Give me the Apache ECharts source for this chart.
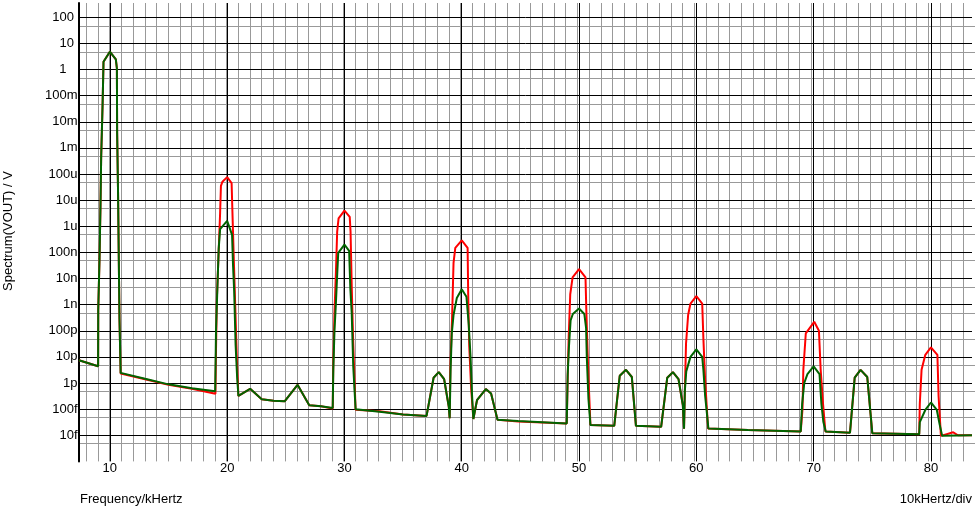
<!DOCTYPE html>
<html><head><meta charset="utf-8">
<script src="https://cdn.jsdelivr.net/npm/echarts@6/dist/echarts.min.js"></script>
<style>html,body{margin:0;padding:0;background:#fff}#c{width:975px;height:509px}</style>
</head><body><div id="c"></div>
<script>
// Decade exponents and their SI tick labels (V)
const yTickExponents = [-14,-13,-12,-11,-10,-9,-8,-7,-6,-5,-4,-3,-2,-1,0,1,2];
const yTickLabels = ['10f','100f','1p','10p','100p','1n','10n','100n','1u','10u','100u','1m','10m','100m','1','10','100'];
const xTickLabels = ['10','20','30','40','50','60','70','80'];

// Spectrum(VOUT), green trace: [frequency kHz, volts]
const greenSpectrum = [
 [7.37,7.4e-12],[9.0,4.4e-12],[9.01,6.3e-10],[9.12,5.9e-8],[9.2,5.6e-6],[9.26,4.6e-4],[9.38,4.4e-2],[9.46,2.0],
 [10.0,4.8],[10.51,2.45],[10.6,1.12],[10.62,4.2e-3],[10.7,1.8e-5],[10.76,6.9e-8],[10.82,3.0e-10],[10.92,2.45e-12],
 [13.0,1.45e-12],[15.0,8.9e-13],[17.0,6.3e-13],[18.98,4.8e-13],
 [19.05,1.0e-10],[19.2,1.2e-8],[19.28,1.4e-7],[19.4,7.8e-7],[20.0,1.6e-6],[20.42,4.7e-7],[20.5,3.3e-8],[20.6,3.2e-9],[20.72,2.9e-11],[20.85,1.7e-12],[20.96,3.2e-13],
 [21.96,6.0e-13],[22.95,2.4e-13],[23.95,2.1e-13],[24.9,2.0e-13],[26.0,8.5e-13],[27.0,1.4e-13],[28.0,1.3e-13],[29.0,1.1e-13],
 [29.05,3.2e-12],[29.15,1.0e-10],[29.27,1.1e-9],[29.36,8.9e-9],[29.47,9.5e-8],[29.6,1.15e-7],[30.0,2.0e-7],[30.4,1.15e-7],[30.5,4.3e-9],[30.62,4.7e-10],[30.75,4.3e-12],[30.95,1.0e-13],
 [33.0,7.9e-14],[35.0,6.3e-14],[37.0,5.5e-14],
 [37.6,1.6e-12],[38.04,2.6e-12],[38.5,1.4e-12],[38.9,1.2e-13],[38.97,4.5e-14],
 [39.05,3.2e-12],[39.15,7.9e-11],[39.3,4.0e-10],[39.58,1.8e-9],[40.0,3.9e-9],[40.4,2.0e-9],[40.6,1.6e-10],[40.75,1.0e-11],[40.87,4.0e-13],[40.99,4.2e-14],
 [41.3,2.2e-13],[42.05,5.9e-13],[42.5,4.0e-13],[43.05,3.9e-14],[44.8,3.5e-14],[48.95,2.8e-14],
 [49.03,2.0e-12],[49.14,2.5e-11],[49.28,2.5e-10],[49.47,4.4e-10],[50.0,7.1e-10],[50.45,4.4e-10],[50.6,1.3e-10],[50.66,1.0e-11],[50.8,2.5e-13],[50.97,2.5e-14],
 [53.0,2.3e-14],[53.47,1.9e-12],[54.0,3.2e-12],[54.5,1.7e-12],[54.85,2.3e-14],
 [57.0,2.1e-14],[57.52,1.6e-12],[58.0,2.6e-12],[58.48,1.4e-12],[58.85,1.4e-13],[58.95,1.8e-14],
 [59.02,5.0e-13],[59.14,2.8e-12],[59.5,1.0e-11],[60.0,1.95e-11],[60.5,1.0e-11],[60.6,3.2e-12],[60.75,3.2e-13],[61.03,1.8e-14],
 [64.4,1.6e-14],[68.9,1.4e-14],
 [69.02,1.6e-13],[69.2,1.0e-12],[69.47,2.2e-12],[70.0,4.3e-12],[70.5,2.2e-12],[70.66,1.6e-13],[70.83,3.2e-14],[71.03,1.4e-14],
 [73.1,1.26e-14],[73.5,1.6e-12],[74.0,3.2e-12],[74.57,1.7e-12],[75.0,1.2e-14],
 [79.0,1.1e-14],[79.05,3.2e-14],[79.52,9.3e-14],[80.0,1.8e-13],[80.5,9.3e-14],[80.75,2.5e-14],[80.96,9.5e-15],[83.5,1.0e-14]
];

// Spectrum(VOUT), red trace: [frequency kHz, volts]
const redSpectrum = [
 [7.37,7.4e-12],[9.0,4.4e-12],[9.01,6.3e-10],[9.12,5.9e-8],[9.2,5.6e-6],[9.26,4.6e-4],[9.38,4.4e-2],[9.46,2.0],
 [10.0,4.8],[10.51,2.45],[10.6,1.12],[10.62,4.2e-3],[10.7,1.8e-5],[10.76,6.9e-8],[10.82,3.0e-10],[10.92,2.3e-12],
 [13.0,1.4e-12],[15.0,8.5e-13],[17.0,6.0e-13],[19.0,3.9e-13],
 [19.05,1.8e-11],[19.12,1.5e-9],[19.28,1.2e-7],[19.4,3.2e-6],[19.47,3.5e-5],[19.6,5.1e-5],[20.0,7.6e-5],[20.38,4.5e-5],[20.45,3.5e-6],[20.55,1.0e-7],[20.7,6.3e-10],[20.82,1.0e-11],[20.96,3.2e-13],
 [21.96,6.0e-13],[22.95,2.4e-13],[23.95,2.1e-13],[24.9,2.0e-13],[26.0,8.5e-13],[27.0,1.4e-13],[28.0,1.3e-13],[29.0,1.05e-13],
 [29.05,6.3e-12],[29.15,5.0e-10],[29.27,1.6e-8],[29.38,6.3e-7],[29.5,2.0e-6],[30.0,4.0e-6],[30.45,2.3e-6],[30.52,6.3e-7],[30.62,5.0e-9],[30.75,3.2e-11],[30.95,9.5e-14],
 [33.0,8.3e-14],[35.0,6.3e-14],[37.0,5.5e-14],
 [37.6,1.6e-12],[38.04,2.6e-12],[38.5,1.4e-12],[38.9,1.2e-13],[38.97,4.5e-14],
 [39.03,4.3e-12],[39.17,2.6e-10],[39.3,4.0e-8],[39.45,1.5e-7],[40.0,2.9e-7],[40.5,1.5e-7],[40.55,2.5e-9],[40.64,2.5e-11],[40.8,6.3e-13],[40.99,4.2e-14],
 [41.3,2.2e-13],[42.05,5.9e-13],[42.5,4.0e-13],[43.05,3.9e-14],[44.8,3.4e-14],[48.95,2.8e-14],
 [49.03,1.6e-12],[49.12,6.3e-11],[49.25,2.5e-9],[49.45,1.1e-8],[50.0,2.3e-8],[50.55,1.1e-8],[50.62,6.3e-10],[50.72,2.0e-11],[50.85,5.0e-13],[50.97,2.5e-14],
 [53.0,2.3e-14],[53.47,1.9e-12],[54.0,3.2e-12],[54.5,1.7e-12],[54.85,2.3e-14],
 [57.0,2.1e-14],[57.52,1.6e-12],[58.0,2.6e-12],[58.48,1.4e-12],[58.85,1.4e-13],[58.95,1.8e-14],
 [59.02,5.0e-13],[59.12,3.2e-11],[59.3,4.0e-10],[59.5,1.1e-9],[60.0,2.1e-9],[60.5,1.1e-9],[60.6,5.0e-11],[60.75,1.26e-12],[61.0,1.8e-14],
 [64.4,1.6e-14],[68.9,1.4e-14],
 [69.05,1.0e-13],[69.12,3.2e-12],[69.33,7.9e-11],[69.47,9.3e-11],[70.05,2.2e-10],[70.45,1.0e-10],[70.6,3.2e-12],[70.8,1.6e-13],[71.0,1.4e-14],
 [73.1,1.26e-14],[73.5,1.6e-12],[74.0,3.2e-12],[74.57,1.7e-12],[75.0,1.2e-14],
 [79.0,1.1e-14],[79.05,1.6e-13],[79.2,3.2e-12],[79.52,1.2e-11],[80.0,2.3e-11],[80.55,1.2e-11],[80.65,3.2e-13],[80.85,9.5e-15],[81.9,1.3e-14],[82.3,1.0e-14],[83.5,1.0e-14]
];

const FONT_FAMILY = '"Liberation Sans", Arial, sans-serif';
const W = 975, H = 509;
const X_MIN = 7.37, X_MAX = 83.5;
const Y_MIN = -15, Y_MAX = 2.547;          // log10(volts)
const LOG5 = Math.log10(5);
const PLOT_L = 79, PLOT_R = 975, PLOT_T = 3, PLOT_B = 461.4;
const pxPerK = (PLOT_R - PLOT_L) / (X_MAX - X_MIN);
const pxPerDec = (PLOT_B - PLOT_T) / (Y_MAX - Y_MIN);
const toLog = pts => pts.map(p => [p[0], Math.log10(p[1])]);

// helper grid for the 1 kHz minor lines (integer-aligned axis extent)
const XM_MIN = Math.floor(X_MIN), XM_MAX = Math.ceil(X_MAX);
const gridXMinor = {left: PLOT_L - (X_MIN - XM_MIN) * pxPerK, right: W - PLOT_R - (XM_MAX - X_MAX) * pxPerK,
                    top: PLOT_T, bottom: H - PLOT_B};
// helper grid for the 5x10^n minor lines (axis unit = log10(V) - log10(5))
const YM_MIN = Math.floor(Y_MIN - LOG5), YM_MAX = Math.ceil(Y_MAX - LOG5);
const gridYMinor = {left: PLOT_L, right: W - PLOT_R,
                    top: PLOT_T - (YM_MAX + LOG5 - Y_MAX) * pxPerDec,
                    bottom: H - (PLOT_B + (Y_MIN - (YM_MIN + LOG5)) * pxPerDec)};

const yLabelRich = {
  n: {fontFamily: FONT_FAMILY, fontSize: 13, color: '#000', padding: [0, 3.5, 0, 0]},
  o: {fontFamily: FONT_FAMILY, fontSize: 13, color: '#000', padding: [0, 11, 0, 0]},
  s: {fontFamily: FONT_FAMILY, fontSize: 13, color: '#000'}
};

const hiddenAxis = {axisLine: {show: false}, axisTick: {show: false}, axisLabel: {show: false}, splitLine: {show: false}};

const chart = echarts.init(document.getElementById('c'), null, {renderer: 'canvas'});
chart.setOption({
  animation: false,
  backgroundColor: '#ffffff',
  grid: [
    {left: PLOT_L, right: W - PLOT_R, top: PLOT_T, bottom: H - PLOT_B, containLabel: false},
    Object.assign({containLabel: false}, gridXMinor),
    Object.assign({containLabel: false}, gridYMinor)
  ],
  xAxis: [
    {type: 'value', gridIndex: 0, min: X_MIN, max: X_MAX, minInterval: 10, maxInterval: 10, z: 2,
     axisLine: {show: false}, axisTick: {show: false},
     axisLabel: {margin: 1, color: '#000', fontFamily: FONT_FAMILY, fontSize: 13,
       formatter: v => { const r = Math.round(v); return (Math.abs(v - r) < 1e-6 && xTickLabels.includes(String(r))) ? String(r) : ''; }},
     splitLine: {show: true, showMinLine: false, showMaxLine: false, lineStyle: {color: '#000', width: 1}}},
    {type: 'value', gridIndex: 1, min: XM_MIN, max: XM_MAX, interval: 1, z: 1,
     axisLine: {show: false}, axisTick: {show: false}, axisLabel: {show: false},
     splitLine: {show: true, showMinLine: false, showMaxLine: false, lineStyle: {color: '#999', width: 1}}},
    Object.assign({type: 'value', gridIndex: 2, min: 0, max: 1}, hiddenAxis)
  ],
  yAxis: [
    {type: 'value', gridIndex: 0, min: Y_MIN, max: Y_MAX, interval: 1, z: 3,
     axisLine: {show: true, onZero: false, lineStyle: {color: '#000', width: 2}},
     axisTick: {show: false},
     axisLabel: {margin: 1.5, color: '#000', fontFamily: FONT_FAMILY, fontSize: 13, rich: yLabelRich,
       formatter: v => {
         const r = Math.round(v); if (Math.abs(v - r) > 1e-6) return '';
         const i = yTickExponents.indexOf(r); if (i < 0) return '';
         const t = yTickLabels[i];
         if (/[a-z]$/.test(t)) return '{s|' + t + '}';
         return t === '1' ? '{o|' + t + '}' : '{n|' + t + '}';
       }},
     splitLine: {show: true, showMinLine: false, showMaxLine: false, lineStyle: {color: '#000', width: 1}}},
    Object.assign({type: 'value', gridIndex: 1, min: 0, max: 1}, hiddenAxis),
    {type: 'value', gridIndex: 2, min: YM_MIN, max: YM_MAX, interval: 1, z: 1,
     axisLine: {show: false}, axisTick: {show: false}, axisLabel: {show: false},
     splitLine: {show: true, showMinLine: false, showMaxLine: false, lineStyle: {color: '#999', width: 1}}}
  ],
  graphic: [
    {type: 'text', x: 80, y: 493, silent: true,
     style: {text: 'Frequency/kHertz', fill: '#000', font: '13px ' + FONT_FAMILY, textVerticalAlign: 'top'}},
    {type: 'text', x: 972, y: 493, silent: true,
     style: {text: '10kHertz/div', fill: '#000', font: '13px ' + FONT_FAMILY, textAlign: 'right', textVerticalAlign: 'top'}},
    {type: 'text', x: 8, y: 231, rotation: Math.PI / 2, silent: true,
     style: {text: 'Spectrum(VOUT) / V', fill: '#000', font: '13px ' + FONT_FAMILY, textAlign: 'center', textVerticalAlign: 'middle'}}
  ],
  series: [
    {type: 'line', name: 'red', xAxisIndex: 0, yAxisIndex: 0, data: toLog(redSpectrum),
     symbol: 'none', showSymbol: false, silent: true, clip: true, z: 3,
     lineStyle: {color: '#ff0000', width: 2}},
    {type: 'line', name: 'green', xAxisIndex: 0, yAxisIndex: 0, data: toLog(greenSpectrum),
     symbol: 'none', showSymbol: false, silent: true, clip: true, z: 4,
     lineStyle: {color: '#006400', width: 2}}
  ]
});
</script>
</body></html>
